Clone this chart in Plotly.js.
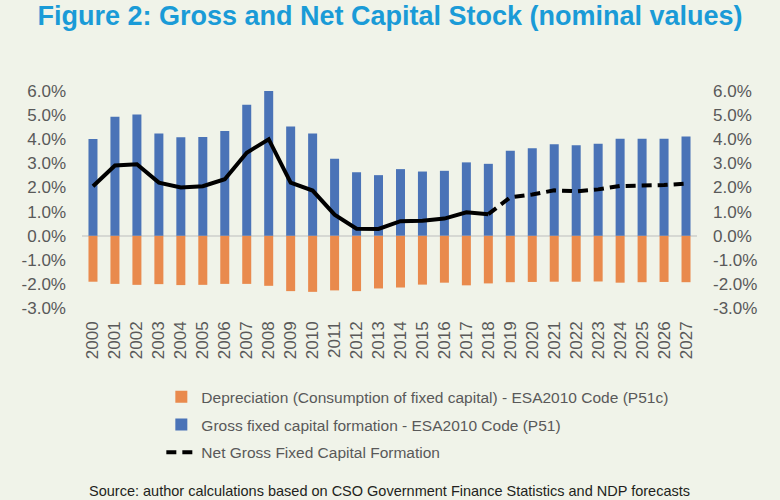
<!DOCTYPE html>
<html>
<head>
<meta charset="utf-8">
<script src="https://cdn.plot.ly/plotly-3.0.1.min.js"></script>
<style>html,body{margin:0;padding:0;background:#f0f3e9;}#chart{width:780px;height:500px;}</style>
</head>
<body>
<div id="chart"></div>
<script>
const years = ['2000','2001','2002','2003','2004','2005','2006','2007','2008','2009','2010','2011','2012','2013','2014','2015','2016','2017','2018','2019','2020','2021','2022','2023','2024','2025','2026','2027'];
const gfcf = [4.01,4.93,5.03,4.24,4.08,4.09,4.34,5.43,6.09,4.53,4.24,3.19,2.63,2.51,2.76,2.66,2.69,3.04,2.98,3.52,3.63,3.79,3.75,3.81,4.02,4.02,4.02,4.11];
const depreciation = [-1.91,-2.00,-2.04,-2.01,-2.05,-2.04,-2.00,-2.00,-2.08,-2.30,-2.33,-2.27,-2.30,-2.19,-2.15,-2.03,-1.95,-2.06,-1.98,-1.93,-1.92,-1.91,-1.91,-1.90,-1.95,-1.93,-1.92,-1.93];
const netActualYears = ['2000','2001','2002','2003','2004','2005','2006','2007','2008','2009','2010','2011','2012','2013','2014','2015','2016','2017','2018'];
const netActual = [2.05,2.91,2.96,2.20,2.00,2.05,2.34,3.44,4.00,2.20,1.87,0.87,0.29,0.28,0.60,0.62,0.71,0.97,0.89];
const netForecastYears = ['2018','2019','2020','2021','2022','2023','2024','2025','2026','2027'];
const netForecast = [0.89,1.59,1.71,1.88,1.84,1.92,2.06,2.06,2.10,2.16];
const tickVals = [-3,-2,-1,0,1,2,3,4,5,6];
const tickText = ['-3.0%','-2.0%','-1.0%','0.0%','1.0%','2.0%','3.0%','4.0%','5.0%','6.0%'];

const FONT = 'Liberation Sans, Arial, sans-serif';
const grey = '#595959';

const traces = [
  {type:'bar', x:years, y:depreciation, name:'Depreciation (Consumption of fixed capital) - ESA2010 Code (P51c)',
   marker:{color:'#e98a4d'}, legendgroup:'a', hoverinfo:'x+y'},
  {type:'bar', x:years, y:gfcf, name:'Gross fixed capital formation - ESA2010 Code (P51)',
   marker:{color:'#4a73b7'}, legendgroup:'b', hoverinfo:'x+y'},
  {type:'scatter', mode:'lines', x:netActualYears, y:netActual, name:'Net Gross Fixed Capital Formation',
   line:{color:'#000', width:4}, showlegend:false, legendgroup:'c', yaxis:'y2'},
  {type:'scatter', mode:'lines', x:netForecastYears, y:netForecast, name:'Net Gross Fixed Capital Formation',
   line:{color:'#000', width:4, dash:'10px,6px'}, legendgroup:'c', yaxis:'y2'}
];

const yax = {range:[-3,6], tickvals:tickVals, ticktext:tickText, showgrid:false, fixedrange:true, automargin:false,
  tickfont:{family:FONT, size:17, color:grey}, ticks:'', ticklabelstandoff:15};

const layout = {
  width:780, height:500,
  paper_bgcolor:'#f0f3e9', plot_bgcolor:'#f0f3e9',
  margin:{l:82, r:83, t:91, b:191.5},
  barmode:'relative', bargap:0.59,
  title:{text:'<b>Figure 2: Gross and Net Capital Stock (nominal values)</b>', xref:'container', x:0.5, xanchor:'center',
    yref:'container', y:0.988, yanchor:'top', font:{family:FONT, size:27, color:'#1a9bd7'}},
  xaxis:{type:'category', tickangle:-90, showgrid:false, showline:false, ticks:'', zeroline:false, automargin:false,
    tickfont:{family:FONT, size:17, color:grey}, ticklabelstandoff:9},
  yaxis:Object.assign({zeroline:true, zerolinecolor:'#d6d8d3', zerolinewidth:2, side:'left'}, yax),
  yaxis2:Object.assign({overlaying:'y', side:'right', zeroline:false}, yax),
  showlegend:true,
  legend:{orientation:'v', x:0.129, xanchor:'left', y:-0.333, yanchor:'top', traceorder:'grouped',
    tracegroupgap:4.5, font:{family:FONT, size:15.5, color:grey}, bgcolor:'rgba(0,0,0,0)'},
  annotations:[{text:'Source: author calculations based on CSO Government Finance Statistics and NDP forecasts',
    xref:'paper', yref:'paper', x:0.5, y:-0.795, xanchor:'center', yanchor:'top', showarrow:false,
    font:{family:FONT, size:14.5, color:'#231f20'}}]
};

Plotly.newPlot('chart', traces, layout, {displayModeBar:false, staticPlot:true});
</script>
</body>
</html>
